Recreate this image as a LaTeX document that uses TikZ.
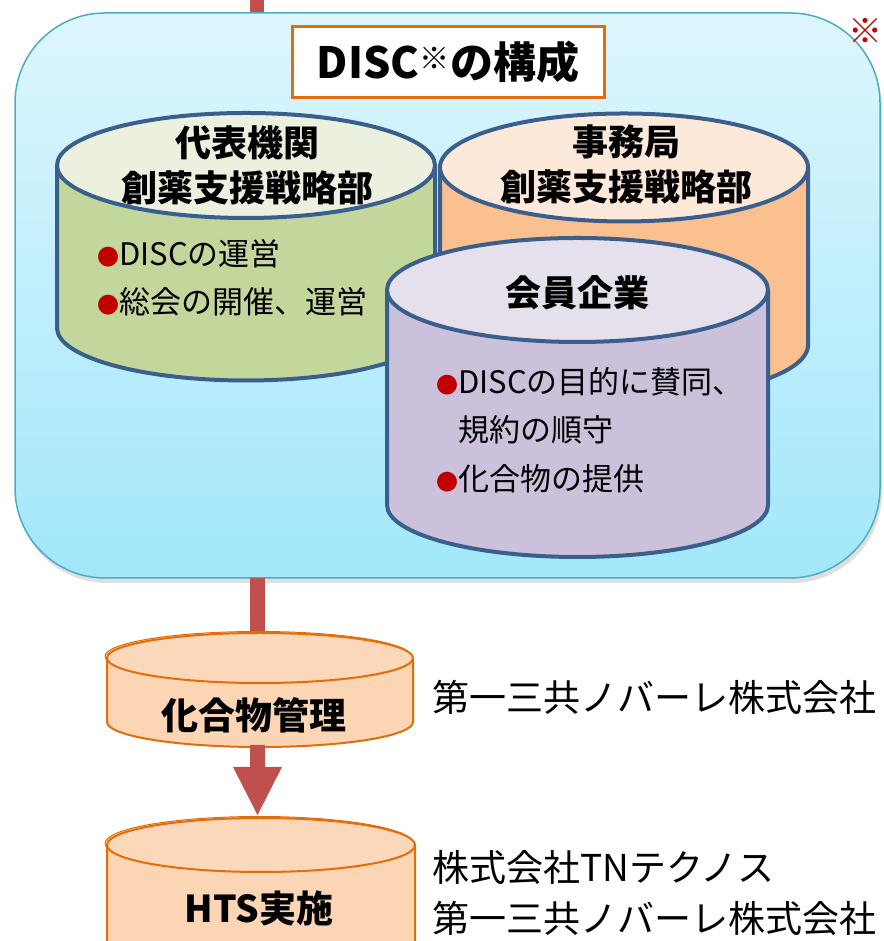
\documentclass[tikz,border=0pt]{standalone}
\usepackage{fontspec}
\setmainfont{Noto Sans CJK JP}
\usetikzlibrary{arrows.meta,shadows}
\definecolor{boxtop}{HTML}{DDF6FD}
\definecolor{boxbot}{HTML}{A2E7FB}
\definecolor{boxline}{HTML}{4BACC6}
\definecolor{arrowred}{HTML}{C0504D}
\definecolor{titleorange}{HTML}{E46C0A}
\definecolor{cylblue}{HTML}{3A5F8C}
\definecolor{greenbody}{HTML}{C3D69B}
\definecolor{greentop}{HTML}{EBF1DE}
\definecolor{orangebody}{HTML}{FAC090}
\definecolor{orangetop}{HTML}{FDE9D9}
\definecolor{purplebody}{HTML}{CCC1DA}
\definecolor{purpletop}{HTML}{E5E0EC}
\definecolor{peach}{HTML}{FCD5B5}
\definecolor{peachtop}{HTML}{FCD8BA}
\definecolor{bulletred}{HTML}{C00000}
% cx, rx, ytop, ybot, ry, body, top, style
\newcommand{\drawcyl}[8]{%
  \filldraw[#8, fill=#6] ({#1-#2},#3) -- ({#1-#2},#4)
    arc[start angle=180, end angle=360, x radius=#2pt, y radius=#5pt]
    -- ({#1+#2},#3) -- cycle;
  \filldraw[#8, fill=#7] (#1,#3) ellipse[x radius=#2pt, y radius=#5pt];
}
\newcommand{\bul}{{\fontsize{22}{22}\selectfont\textcolor{bulletred}{●}}}
\begin{document}
\begin{tikzpicture}[x=1pt,y=1pt,
  cylline/.style={draw=cylblue, line width=4pt, line join=round},
  cyllow/.style={draw=titleorange, line width=2pt, line join=round},
  arrowline/.style={draw=arrowred, line width=14pt},
  head/.style={font=\fontsize{36}{45}\selectfont\bfseries, align=center, inner sep=0pt},
  bullets/.style={font=\fontsize{31}{48.5}\selectfont, align=left, anchor=west, inner sep=0pt},
  side/.style={font=\fontsize{37}{51}\selectfont, anchor=west, inner sep=0pt, align=left},
  mainbox/.style={draw=boxline, line width=1.5pt, rounded corners=90pt,
    top color=boxtop, bottom color=boxbot,
    drop shadow={opacity=0.25, shadow xshift=2pt, shadow yshift=-5pt},
    minimum width=865pt, minimum height=565pt, inner sep=0pt}]
\useasboundingbox (0,0) rectangle (883,941);
% top connector (behind the box)
\coordinate (topin) at (256.5,941);
\coordinate (boxtop) at (256.5,915);
\draw[arrowline] (topin) -- (boxtop);
% main box
\node[mainbox] (disc) at (447.5,645.5) {};
% note mark
\node[text=bulletred, font=\fontsize{34}{34}\selectfont\bfseries, inner sep=0pt] (note) at (865,910) {※};
% title
\node[draw=titleorange, line width=3pt, fill=white, minimum width=312pt, minimum height=71pt,
  font=\fontsize{43}{43}\selectfont\bfseries, inner sep=0pt] (title) at (448,878.5)
  {DISC\textsuperscript{※}の構成};
% cylinders
\drawcyl{246}{189}{775.5}{613}{52.5}{greenbody}{greentop}{cylline}
\drawcyl{624}{184}{773.5}{596}{54}{orangebody}{orangetop}{cylline}
\drawcyl{577.5}{190.5}{651}{436}{52}{purplebody}{purpletop}{cylline}
% texts in cylinders
\node[head] (rep) at (247,775.5) {代表機関\\創薬支援戦略部};
\node[bullets] (repb) at (97,663.5) {\bul DISCの運営\\\bul 総会の開催、運営};
\node[head] (sec) at (626,777) {事務局\\創薬支援戦略部};
\node[head] (mem) at (577,648) {会員企業};
\node[bullets] (memb) at (436,511) {\bul DISCの目的に賛同、\\\phantom{\bul}規約の順守\\\bul 化合物の提供};
% middle connector
\coordinate (boxbot) at (257.5,363);
\coordinate (cmtop) at (257.5,300);
\draw[arrowline, line width=15pt] (boxbot) -- (cmtop);
% compound management cylinder
\filldraw[cyllow, line width=1pt, fill=peach] (258,284.5) ellipse[x radius=153pt, y radius=25pt];
\drawcyl{260}{153}{283}{219}{25}{peach}{peachtop}{cyllow}
\node[head, font=\fontsize{37}{37}\selectfont\bfseries] (cm) at (254,226) {化合物管理};
% lower arrow
\coordinate (cmbot) at (257.5,194);
\coordinate (htstop) at (257.5,126);
\fill[arrowred] (250,196) -- (265,196) -- (265,174) -- (282,174) -- (htstop) -- (233,174) -- (250,174) -- cycle;
\path (cmbot) -- (htstop);
% HTS cylinder
\filldraw[cyllow, line width=1pt, fill=peach] (259,97.5) ellipse[x radius=154pt, y radius=27pt];
\drawcyl{261}{154}{96}{-9}{27}{peach}{peachtop}{cyllow}
\node[head, font=\fontsize{37}{37}\selectfont\bfseries] (hts) at (259,33) {HTS実施};
% side labels
\node[side] (cmco) at (432,244) {第一三共ノバーレ株式会社};
\node[side] (htsco) at (432,48.5) {株式会社TNテクノス\\第一三共ノバーレ株式会社};
\end{tikzpicture}
\end{document}
